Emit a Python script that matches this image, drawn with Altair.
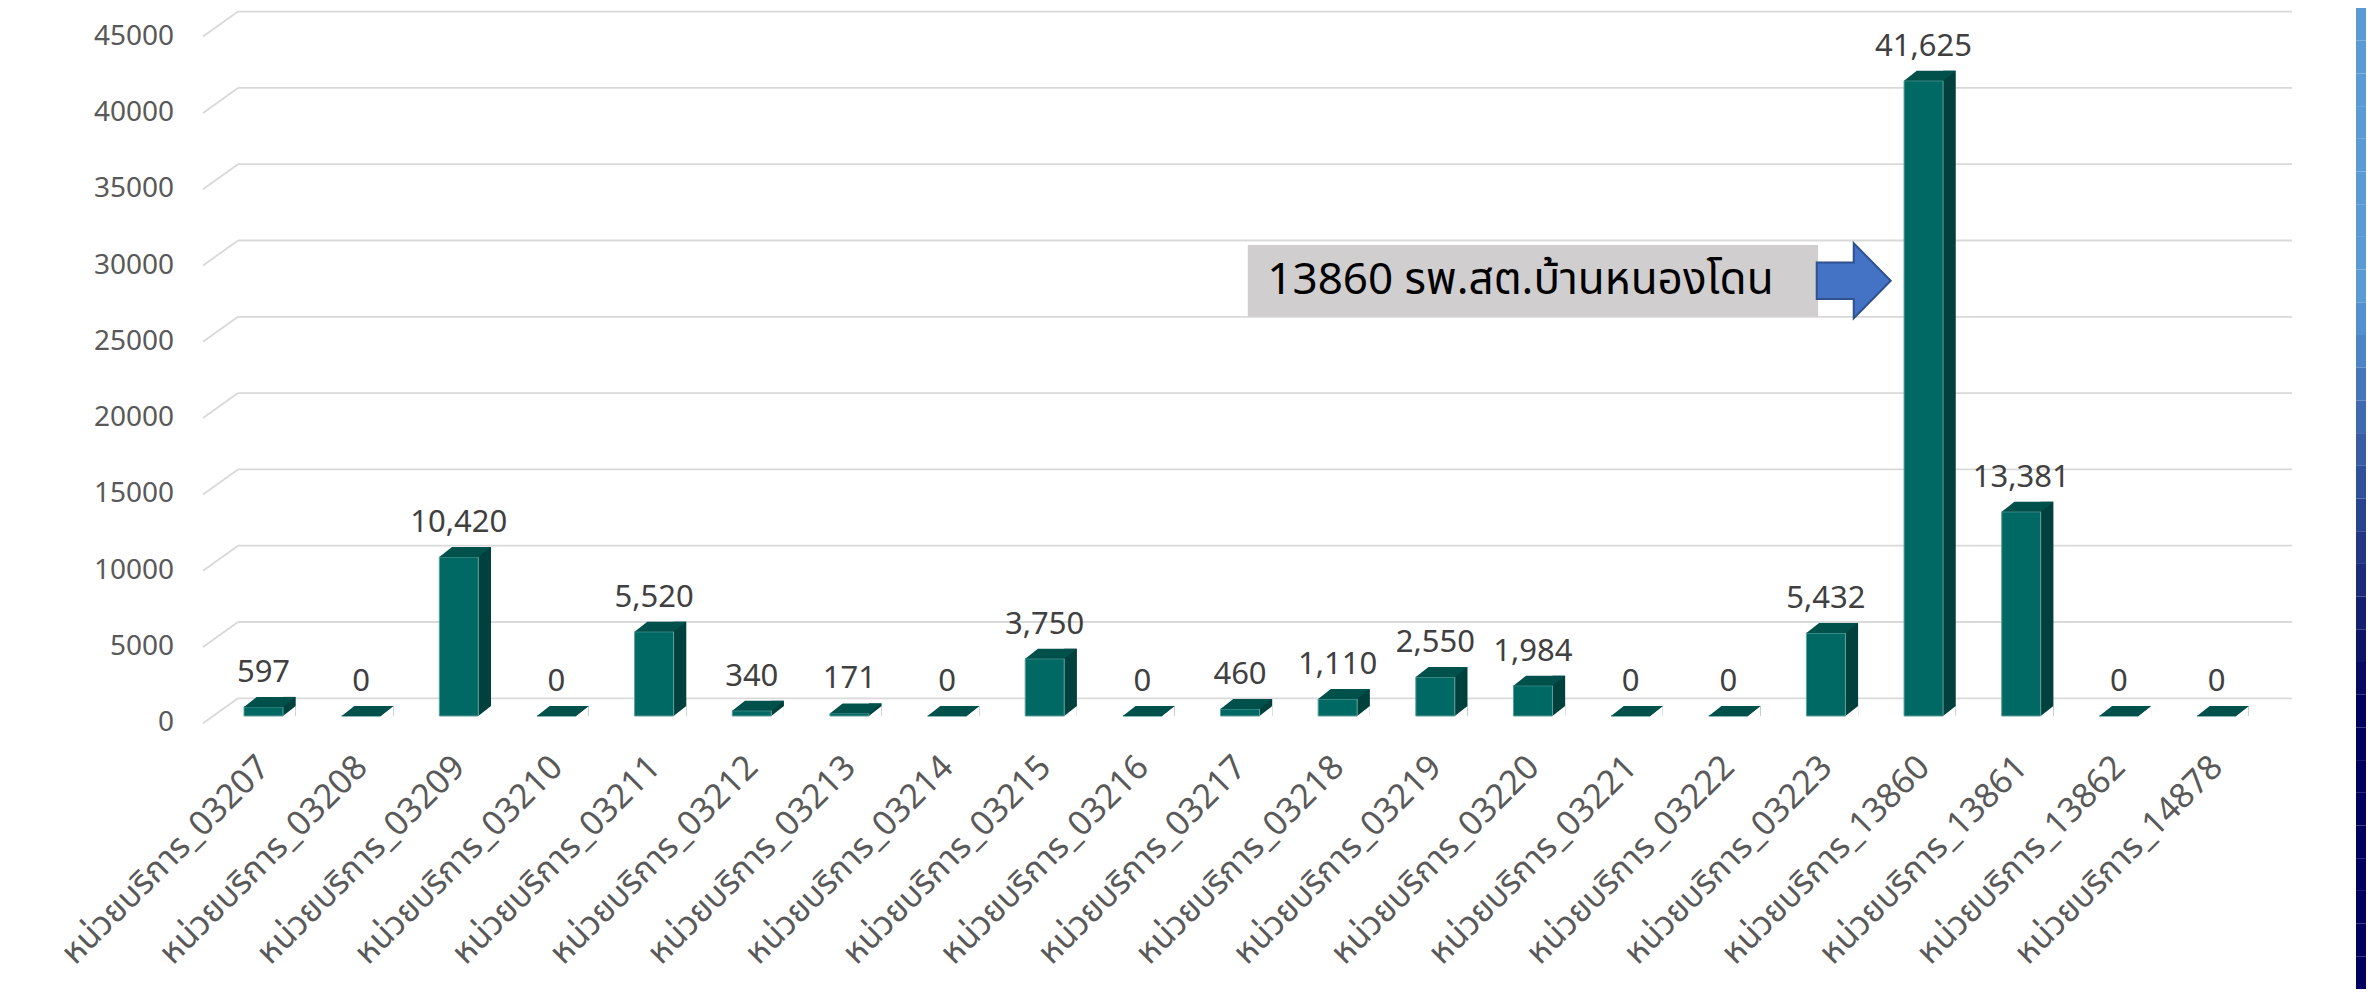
import altair as alt
import pandas as pd

# ---- data ----
codes = ["03207", "03208", "03209", "03210", "03211", "03212", "03213",
         "03214", "03215", "03216", "03217", "03218", "03219", "03220",
         "03221", "03222", "03223", "13860", "13861", "13862", "14878"]
values = [597, 0, 10420, 0, 5520, 340, 171, 0, 3750, 0, 460, 1110, 2550,
          1984, 0, 0, 5432, 41625, 13381, 0, 0]
prefix = "หน่วยบริการ_"
y_ticks = [0, 5000, 10000, 15000, 20000, 25000, 30000, 35000, 40000, 45000]
note_text = ["13860 รพ.สต.บ้านหนองโดน"]
note_x0, note_x1 = [10.08], [15.92]      # category-index span of the note box
note_y0, note_y1 = [25000], [29700]      # value span of the note box
note_tx, note_ty = [10.28], [26500]
arrow_x, arrow_y = [16.285], [27360]

df = pd.DataFrame({
    "i": list(range(len(codes))),
    "label": [prefix + c for c in codes],
    "value": values,
    "base": [0] * len(codes),
})
ticks = pd.DataFrame({"tick": y_ticks})
note_df = pd.DataFrame({"x0": note_x0, "x1": note_x1, "y0": note_y0, "y1": note_y1,
                        "tx": note_tx, "ty": note_ty, "ax": arrow_x, "ay": arrow_y,
                        "txt": note_text})

# decorative slide edge (light blue -> navy), 30 bands top to bottom
strip_colors = (["#5B9BD5"] * 9 +
                ["#5490CF", "#4D84C7", "#4677BD", "#3F6AB2", "#385DA7", "#31509C",
                 "#2A4391", "#233786", "#1C2B7B", "#152071", "#0E1568", "#070A62"] +
                ["#000060"] * 9)
strip_df = pd.DataFrame({"k": list(range(len(strip_colors))), "c": strip_colors})

FONT = "Noto Sans Thai, Loma, Garuda, Noto Sans, DejaVu Sans, sans-serif"
NUMFONT = "Noto Sans, DejaVu Sans, sans-serif"

W, H = 2358, 981
X = alt.Scale(domain=[0, 20], range=[255.5, 2208.5], nice=False, zero=False)
Y = alt.Scale(domain=[0, 45000], range=[690.3, 3.6], nice=False, zero=False)

FRONT = 17.7  # front face offset below the back plane
DX, DY = 12.7, 10.0
HW = 19.5

grid = alt.Chart(ticks).mark_rule(color="#D9D9D9", strokeWidth=1.8).encode(
    y=alt.Y("tick:Q", scale=Y, axis=None),
    x=alt.value(230), x2=alt.value(2284))

diag = alt.Chart(ticks).mark_rule(color="#D9D9D9", strokeWidth=1.8, yOffset=25, y2Offset=0).encode(
    y=alt.Y("tick:Q", scale=Y, axis=None), y2=alt.Y2("tick:Q"),
    x=alt.value(195), x2=alt.value(230))

ylab = alt.Chart(ticks).mark_text(align="right", baseline="middle", fontSize=28,
                                  color="#595959", font=NUMFONT, yOffset=25).encode(
    y=alt.Y("tick:Q", scale=Y, axis=None), x=alt.value(166),
    text=alt.Text("tick:Q", format="d"))

side = alt.Chart(df).mark_rect(color="#00403D", xOffset=HW, x2Offset=HW + DX,
                               yOffset=FRONT - DY, y2Offset=FRONT).encode(
    x=alt.X("i:Q", scale=X, axis=None), x2="i:Q",
    y=alt.Y("value:Q", scale=Y, axis=None), y2="base:Q")

tri = alt.Chart(df).mark_point(shape=f"M{HW},0 L{HW+DX},0 L{HW+DX},{-DY} Z", size=4,
                               filled=True, fill="white", opacity=1, strokeWidth=0,
                               yOffset=FRONT).encode(
    x=alt.X("i:Q", scale=X, axis=None), y=alt.Y("base:Q", scale=Y, axis=None))

front = alt.Chart(df).mark_rect(color="#006964", stroke="#5E9F9B", strokeWidth=1,
                                xOffset=-HW, x2Offset=HW, yOffset=FRONT, y2Offset=FRONT).encode(
    x=alt.X("i:Q", scale=X, axis=None), x2="i:Q",
    y=alt.Y("value:Q", scale=Y, axis=None), y2="base:Q")

top = alt.Chart(df).mark_point(shape=f"M{-HW},0 L{HW},0 L{HW+DX},{-DY} L{-HW+DX},{-DY} Z",
                               size=4, filled=True, fill="#00504C", opacity=1, strokeWidth=0,
                               yOffset=FRONT).encode(
    x=alt.X("i:Q", scale=X, axis=None), y=alt.Y("value:Q", scale=Y, axis=None))

vlab = alt.Chart(df).mark_text(align="center", baseline="alphabetic", fontSize=31,
                               color="#404040", font=NUMFONT, yOffset=FRONT - 25).encode(
    x=alt.X("i:Q", scale=X, axis=None), y=alt.Y("value:Q", scale=Y, axis=None),
    text=alt.Text("value:Q", format=","))

xlab = alt.Chart(df).mark_text(align="right", baseline="middle", angle=315, fontSize=34,
                               color="#595959", font=FONT, xOffset=1, yOffset=64).encode(
    x=alt.X("i:Q", scale=X, axis=None), y=alt.Y("base:Q", scale=Y, axis=None),
    text="label:N")

box = alt.Chart(note_df).mark_rect(color="#D0CECE").encode(
    x=alt.X("x0:Q", scale=X, axis=None), x2="x1:Q",
    y=alt.Y("y0:Q", scale=Y, axis=None), y2="y1:Q")

note = alt.Chart(note_df).mark_text(align="left", baseline="alphabetic", fontSize=44,
                                    color="#000000", font=FONT).encode(
    x=alt.X("tx:Q", scale=X, axis=None), y=alt.Y("ty:Q", scale=Y, axis=None),
    text="txt:N")

arrow = alt.Chart(note_df).mark_point(
    shape="M-37,-18.3 L0,-18.3 L0,-37.5 L37,0 L0,37.5 L0,18.3 L-37,18.3 Z",
    size=4, filled=True, fill="#4472C4", stroke="#2F528F", strokeWidth=2, opacity=1).encode(
    x=alt.X("ax:Q", scale=X, axis=None), y=alt.Y("ay:Q", scale=Y, axis=None))

strip = alt.Chart(strip_df).mark_rect().encode(
    x=alt.value(W - 10), x2=alt.value(W),
    y=alt.Y("k:O", axis=None, scale=alt.Scale(range=[0, H], paddingInner=0, paddingOuter=0)),
    color=alt.Color("c:N", scale=None, legend=None))

chart = alt.layer(grid, diag, ylab, side, tri, front, top, vlab, xlab, box, note, arrow, strip).properties(
    width=W, height=H,
    autosize=alt.AutoSizeParams(type="none"),
    padding=0,
    background="white",
).configure_view(stroke=None)

chart.save("out.html", embed_options={"renderer": "svg", "actions": False})
